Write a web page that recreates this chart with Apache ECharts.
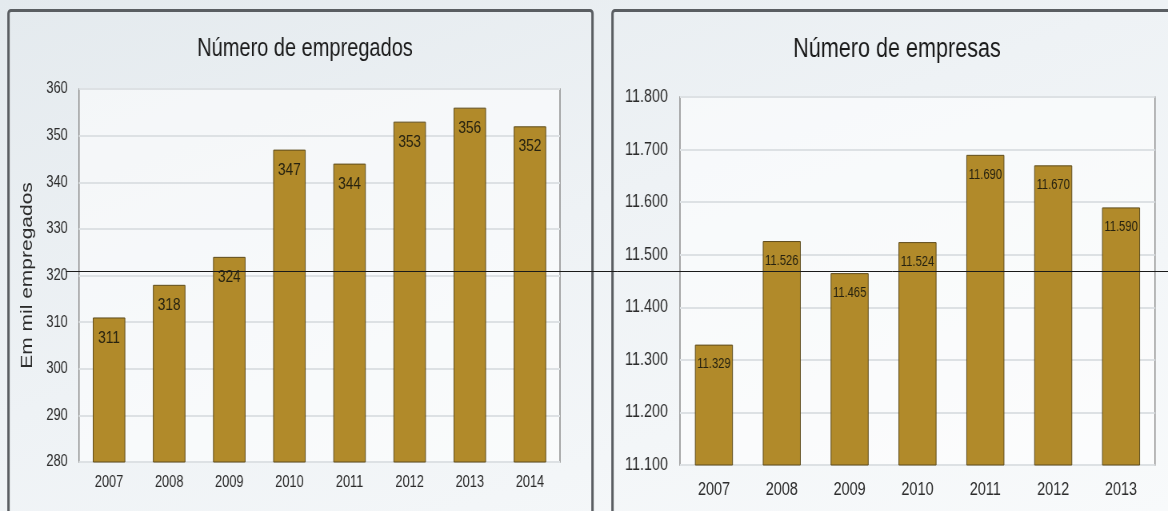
<!DOCTYPE html>
<html>
<head>
<meta charset="utf-8">
<script src="https://cdn.jsdelivr.net/npm/echarts@6/dist/echarts.min.js"></script>
<style>
  html, body { margin: 0; padding: 0; overflow: hidden; width: 1168px; height: 511px; }
  body { background: linear-gradient(160deg, #e4eaee 0%, #eef2f5 45%, #f8fafb 100%); }
  /* the chart is laid out wide and squeezed horizontally for a condensed look */
  #chart { width: 1460px; height: 511px; transform: scaleX(0.8); transform-origin: 0 0; }
</style>
</head>
<body>
<div id="chart"></div>
<script>
// Employees (thousands) per year
const empYears = ['2007', '2008', '2009', '2010', '2011', '2012', '2013', '2014'];
const empValues = [311, 318, 324, 347, 344, 353, 356, 352];
const empTicks = { min: 280, max: 360, step: 10 };

// Number of companies per year
const firmYears = ['2007', '2008', '2009', '2010', '2011', '2012', '2013'];
const firmValues = [11329, 11526, 11465, 11524, 11690, 11670, 11590];
const firmTicks = { min: 11100, max: 11800, step: 100 };

const SX = 0.8;                       // horizontal squeeze applied by CSS
const px = x => x / SX;               // screen x -> chart x
const sans = '"Liberation Sans", Arial, sans-serif';
const barColor = '#B18A2A';
const ink = '#2b2b2b';

// thousands separator as a dot: 11.329
const ptNum = v => String(v).replace(/\B(?=(\d{3})+(?!\d))/g, '.');

const chart = echarts.init(document.getElementById('chart'));

chart.setOption({
  backgroundColor: 'transparent',
  animation: false,
  title: [
    { text: 'Número de empregados', left: px(301), top: 32, textAlign: 'center',
      textStyle: { fontFamily: sans, fontSize: 25, fontWeight: 'normal', color: '#1a1a1a' } },
    { text: 'Número de empresas', left: px(893), top: 31, textAlign: 'center',
      textStyle: { fontFamily: sans, fontSize: 27, fontWeight: 'normal', color: '#1a1a1a' } }
  ],
  grid: [
    { left: px(79), top: 89, width: px(481), height: 373, show: true,
      backgroundColor: 'rgba(255,255,255,0.55)', borderColor: '#8c8c8c', borderWidth: 1.5 },
    { left: px(680), top: 97, width: px(475), height: 368, show: true,
      backgroundColor: 'rgba(255,255,255,0.55)', borderColor: '#8c8c8c', borderWidth: 1.5 }
  ],
  xAxis: [
    { type: 'category', gridIndex: 0, data: empYears,
      axisLine: { show: false }, axisTick: { show: false },
      axisLabel: { margin: 13, fontFamily: sans, fontSize: 16, color: ink } },
    { type: 'category', gridIndex: 1, data: firmYears,
      axisLine: { show: false }, axisTick: { show: false },
      axisLabel: { margin: 16, fontFamily: sans, fontSize: 18, color: ink } }
  ],
  yAxis: [
    { type: 'value', gridIndex: 0, min: empTicks.min, max: empTicks.max, interval: empTicks.step,
      name: 'Em mil empregados', nameLocation: 'middle', nameGap: 54,
      nameTextStyle: { fontFamily: sans, fontSize: 21, color: ink },
      axisLine: { show: false }, axisTick: { show: false },
      axisLabel: { margin: 14, fontFamily: sans, fontSize: 16, color: ink },
      splitLine: { lineStyle: { color: '#dde1e4', width: 2 } } },
    { type: 'value', gridIndex: 1, min: firmTicks.min, max: firmTicks.max, interval: firmTicks.step,
      axisLine: { show: false }, axisTick: { show: false },
      axisLabel: { margin: 15, fontFamily: sans, fontSize: 18, color: ink, formatter: ptNum },
      splitLine: { lineStyle: { color: '#dde1e4', width: 2 } } }
  ],
  series: [
    { type: 'bar', xAxisIndex: 0, yAxisIndex: 0, data: empValues, barWidth: '54%',
      itemStyle: { color: barColor, borderColor: '#5e4c1c', borderWidth: 1 },
      label: { show: true, position: 'insideTop', distance: 12,
        fontFamily: sans, fontSize: 17, color: '#262210' } },
    { type: 'bar', xAxisIndex: 1, yAxisIndex: 1, data: firmValues, barWidth: '56%',
      itemStyle: { color: barColor, borderColor: '#5e4c1c', borderWidth: 1 },
      label: { show: true, position: 'insideTop', distance: 13,
        fontFamily: sans, fontSize: 14, color: '#262210', formatter: p => ptNum(p.value) } }
  ],
  graphic: [
    // panel frames
    { type: 'rect', shape: { x: px(8.5), y: 10.5, width: px(584), height: 520, r: 3 },
      style: { fill: 'none', stroke: '#5a5e62', lineWidth: 3 }, z: 10 },
    { type: 'rect', shape: { x: px(612.5), y: 10.5, width: px(580), height: 520, r: 3 },
      style: { fill: 'none', stroke: '#5a5e62', lineWidth: 3 }, z: 10 },
    // thin rule across both panels
    { type: 'line', shape: { x1: px(66), y1: 271.5, x2: px(1168), y2: 271.5 },
      style: { stroke: '#1a1a1a', lineWidth: 1 }, z: 20 }
  ]
});
</script>
</body>
</html>
